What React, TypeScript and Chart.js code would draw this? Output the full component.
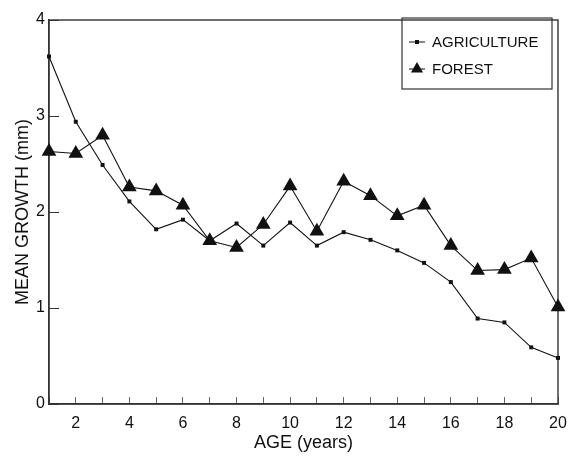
import React, { useEffect, useRef } from 'react';
import { Chart, registerables } from 'chart.js';

Chart.register(...registerables);

const ages = [1, 2, 3, 4, 5, 6, 7, 8, 9, 10, 11, 12, 13, 14, 15, 16, 17, 18, 19, 20];
const agriculture = [3.62, 2.94, 2.49, 2.11, 1.82, 1.92, 1.70, 1.88, 1.65, 1.89, 1.65, 1.79, 1.71, 1.60, 1.47, 1.27, 0.89, 0.85, 0.59, 0.48];
const forest = [2.63, 2.61, 2.80, 2.26, 2.22, 2.07, 1.70, 1.63, 1.87, 2.27, 1.80, 2.32, 2.17, 1.96, 2.07, 1.65, 1.39, 1.40, 1.52, 1.01];
const seriesLabels = ['AGRICULTURE', 'FOREST'];
const xTitle = 'AGE (years)';
const yTitle = 'MEAN GROWTH (mm)';

const FONT = '"Liberation Sans", Arial, Helvetica, sans-serif';
const INK = '#111';

const framePlugin = {
  id: 'frame',
  beforeDatasetsDraw(chart: any) {
    const { ctx, chartArea } = chart;
    ctx.save();
    ctx.strokeStyle = '#333';
    ctx.lineWidth = 1.4;
    ctx.strokeRect(chartArea.left, chartArea.top, chartArea.right - chartArea.left, chartArea.bottom - chartArea.top);
    ctx.restore();
  },
};

const legendBoxPlugin = {
  id: 'legendBox',
  afterDraw(chart: any) {
    const { ctx, chartArea } = chart;
    const w = 150;
    const h = 71;
    const left = chartArea.right - 6 - w;
    const top = chartArea.top - 2;
    ctx.save();
    ctx.strokeStyle = '#333';
    ctx.lineWidth = 1.2;
    ctx.strokeRect(left, top, w, h);
    const rows = [top + 24, top + 51];
    chart.data.datasets.forEach((ds: any, i: number) => {
      const y = rows[i];
      ctx.strokeStyle = INK;
      ctx.lineWidth = 1;
      ctx.beginPath();
      ctx.moveTo(left + 7, y);
      ctx.lineTo(left + 23, y);
      ctx.stroke();
      ctx.fillStyle = INK;
      const cx = left + 15;
      if (ds.pointStyle === 'rect') {
        ctx.fillRect(cx - 2, y - 2, 4, 4);
      } else {
        const r = 7;
        ctx.beginPath();
        ctx.moveTo(cx, y - r);
        ctx.lineTo(cx + r * 0.866, y + r * 0.5);
        ctx.lineTo(cx - r * 0.866, y + r * 0.5);
        ctx.closePath();
        ctx.fill();
      }
      ctx.font = `15px ${FONT}`;
      ctx.textBaseline = 'middle';
      ctx.textAlign = 'left';
      ctx.fillText(ds.label, left + 30, y + 1);
    });
    ctx.restore();
  },
};

export default function App() {
  const canvasRef = useRef<HTMLCanvasElement | null>(null);

  useEffect(() => {
    const canvas = canvasRef.current;
    if (!canvas) return;
    const chart = new Chart(canvas, {
      type: 'line',
      data: {
        datasets: [
          {
            label: seriesLabels[0],
            data: ages.map((a, i) => ({ x: a, y: agriculture[i] })),
            borderColor: INK,
            backgroundColor: INK,
            borderWidth: 1.1,
            pointStyle: 'rect',
            pointRadius: 2.8,
            pointBorderWidth: 0,
            tension: 0,
            clip: false,
          },
          {
            label: seriesLabels[1],
            data: ages.map((a, i) => ({ x: a, y: forest[i] })),
            borderColor: INK,
            backgroundColor: INK,
            borderWidth: 1.1,
            pointStyle: 'triangle',
            pointRadius: 8.5,
            pointBorderWidth: 0,
            tension: 0,
            clip: false,
          },
        ],
      },
      options: {
        animation: false,
        responsive: false,
        devicePixelRatio: 1,
        layout: { padding: { left: 12, top: 20, right: 11, bottom: 5 } },
        plugins: {
          legend: { display: false },
          tooltip: { enabled: false },
        },
        scales: {
          x: {
            type: 'linear',
            min: 1,
            max: 20,
            afterFit(scale: any) {
              scale.height = 50;
              scale.paddingLeft = 0;
              scale.paddingRight = 0;
            },
            ticks: {
              stepSize: 1,
              padding: 17,
              color: INK,
              font: { family: FONT, size: 16 },
              maxRotation: 0,
              autoSkip: false,
              callback: (v: any) => (Number(v) % 2 === 0 ? String(v) : ''),
            },
            grid: {
              drawOnChartArea: false,
              drawTicks: true,
              tickLength: -7,
              color: '#666',
              lineWidth: 1,
            },
            border: { display: true, color: '#333', width: 1.4 },
            title: {
              display: true,
              text: xTitle,
              color: INK,
              padding: 0,
              font: { family: FONT, size: 18 },
            },
          },
          y: {
            type: 'linear',
            min: 0,
            max: 4,
            afterFit(scale: any) {
              scale.width = 37;
              scale.paddingTop = 0;
              scale.paddingBottom = 0;
            },
            ticks: {
              stepSize: 1,
              padding: 14,
              color: INK,
              font: { family: FONT, size: 16 },
            },
            grid: {
              drawOnChartArea: false,
              drawTicks: true,
              tickLength: -10,
              color: '#333',
              lineWidth: 1,
            },
            border: { display: true, color: '#333', width: 1.4 },
            title: {
              display: true,
              text: yTitle,
              color: INK,
              padding: 0,
              font: { family: FONT, size: 18 },
            },
          },
        },
      },
      plugins: [framePlugin, legendBoxPlugin],
    });
    return () => chart.destroy();
  }, []);

  return (
    <div style={{ position: 'absolute', left: 0, top: 0, width: 569, height: 459, background: '#fff' }}>
      <canvas ref={canvasRef} width={569} height={459} style={{ width: 569, height: 459 }} />
    </div>
  );
}
